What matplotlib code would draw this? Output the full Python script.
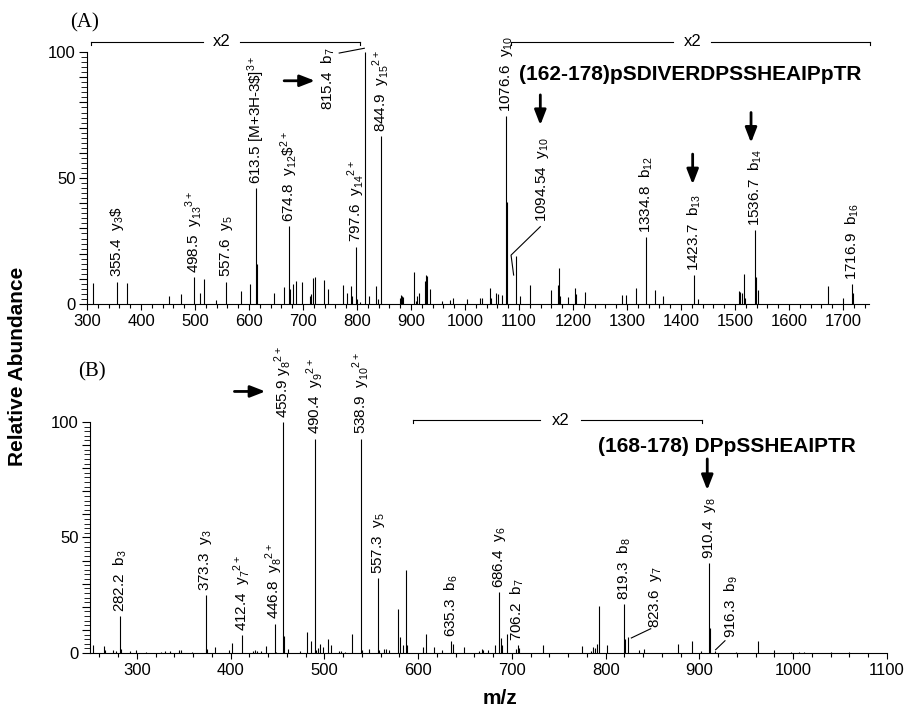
import matplotlib
matplotlib.use("Agg")
import matplotlib.pyplot as plt
from matplotlib.ticker import MultipleLocator, FuncFormatter

plt.rcParams['font.family'] = ['Liberation Sans', 'DejaVu Sans']
plt.rcParams['mathtext.fontset'] = 'custom'
plt.rcParams['mathtext.rm'] = 'Liberation Sans'
plt.rcParams['mathtext.it'] = 'Liberation Sans'
plt.rcParams['mathtext.default'] = 'regular'

# ---- panel A spectrum: (162-178)pSDIVERDPSSHEAIPpTR ----
a_mz = [312, 355.4, 374, 451, 474, 498.5, 508.5, 516, 539.5, 557.6, 584.5, 602.5,
        613.5, 615.5, 646.5, 665.5, 674.8, 676.5, 680.8, 687.5, 699, 712, 715,
        718.5, 721.5, 739.5, 745.5, 774, 781.5, 789, 791, 797.6, 800, 805, 815.4,
        823, 834.5, 838, 844.9, 879, 881, 883, 886, 906, 909, 911, 914, 925, 928,
        930, 935, 958, 973, 978, 1004, 1027, 1031.5, 1045.5, 1048, 1057, 1061,
        1068, 1076.6, 1078.5, 1094.5, 1102.4, 1121, 1160, 1171.5, 1173.4, 1175,
        1190, 1203, 1205, 1222.7, 1290.8, 1298, 1316, 1334.8, 1351.8, 1366.6,
        1423.7, 1431, 1507.3, 1510, 1512.8, 1516.6, 1519, 1536.7, 1538.5, 1542,
        1671.5, 1700, 1716.9, 1718]
a_int = [8.2, 8.9, 8.5, 3.2, 3.8, 10.6, 4.2, 9.8, 1.6, 8.9, 5.2, 8.1,
         45.9, 15.9, 4.2, 6.6, 30.8, 5.8, 7.9, 9.3, 8.9, 3.0, 4.0,
         10.2, 10.8, 9.5, 6.1, 7.7, 4.2, 7.1, 3.3, 22.8, 2.0, 1.0, 100,
         3.3, 7.1, 1.9, 66.8, 2.5, 3.5, 3.0, 2.8, 12.8, 1.3, 3.3, 4.5, 9.3, 11.6,
         11.2, 5.8, 1.3, 1.6, 2.2, 1.9, 2.5, 2.2, 6.4, 2.2, 4.5, 4.0,
         3.4, 74.5, 40.6, 18.9, 3.0, 7.5, 5.6, 7.5, 14.2, 3.3,
         2.6, 6.3, 4.0, 4.9, 3.7, 3.6, 6.3, 26.5, 5.7, 3.3,
         11.5, 1.9, 5.2, 4.9, 4.4, 11.9, 2.2, 29.4, 10.8, 5.6,
         7.3, 2.2, 7.9, 4.2]

a_label_mz = [355.4, 498.5, 557.6, 613.5, 674.8, 797.6, 844.9, 1076.6,
              1334.8, 1423.7, 1536.7, 1716.9]
a_label_txt = [r"355.4  y$_3\$$", r"498.5  y$_{13}{}^{3+}$", r"557.6  y$_5$",
               r"613.5 [M+3H-3\$]$^{3+}$", r"674.8  y$_{12}\$^{2+}$",
               r"797.6  y$_{14}{}^{2+}$", r"844.9  y$_{15}{}^{2+}$",
               r"1076.6  y$_{10}$", r"1334.8  b$_{12}$", r"1423.7  b$_{13}$",
               r"1536.7  b$_{14}$", r"1716.9  b$_{16}$"]

# ---- panel B spectrum: (168-178) DPpSSHEAIPTR ----
b_mz = [252.7, 264.4, 265.5, 275, 278, 282.2, 283.5, 293, 299, 310, 326, 330,
        335, 345, 346.5, 359, 373.3, 374.5, 383, 398, 401.4, 412.4, 424, 426,
        428, 432, 438, 446.8, 448.5, 455.9, 456.8, 461.3, 474, 481.6, 485.5,
        490.4, 491.5, 493, 495.4, 499, 503.8, 507.3, 515, 518, 522, 529.5,
        538.9, 540, 548, 557.3, 558.5, 564, 566, 569, 578.9, 580.7, 584, 587.1,
        588.5, 605.5, 608, 617, 625, 635.3, 637.5, 649, 665, 668, 669.5, 674,
        682, 686.4, 687.9, 689, 694.5, 704, 706.2, 708, 732.8, 774.4, 784,
        786.5, 789, 791, 793.2, 801, 819.3, 820.5, 823.6, 835, 841, 877, 892.3,
        902, 910.4, 911.2, 916.3, 939, 962.4, 980, 998, 1006, 1011, 1040, 1060]
b_int = [3.6, 3.2, 1.2, 1.2, 0.9, 15.8, 1.7, 1.0, 1.3, 0.6, 0.6, 0.8,
         0.9, 1.4, 1.4, 0.6, 25.2, 1.7, 2.4, 1.2, 4.3, 7.9, 1.0, 1.2,
         1.0, 1.0, 3.2, 12.7, 0.5, 100, 7.2, 1.9, 0.8, 8.9, 5.3,
         92.8, 1.4, 2.2, 3.9, 2.6, 6.2, 3.6, 1.0, 1.0, 0.6, 8.2,
         92.8, 1.4, 1.7, 32.4, 1.2, 1.6, 1.6, 1.2, 19.1, 7.0, 3.3, 36.1,
         3.6, 2.7, 8.3, 2.6, 1.4, 5.0, 4.0, 2.6, 0.7, 1.7, 1.4, 1.2,
         3.5, 26.2, 6.5, 3.6, 8.3, 1.7, 3.6, 2.2, 3.6, 3.2, 1.0,
         2.6, 2.2, 3.9, 20.4, 3.6, 21.3, 6.0, 6.9, 1.4, 1.9, 3.9, 5.3,
         1.0, 38.8, 10.8, 1.0, 0.6, 5.0, 1.4, 0.6, 0.6, 0.6, 0.4, 0.4]

b_label_mz = [282.2, 373.3, 412.4, 446.8, 455.9, 490.4, 538.9, 557.3, 635.3,
              686.4, 706.2, 819.3, 910.4]
b_label_txt = [r"282.2  b$_3$", r"373.3  y$_3$", r"412.4  y$_7{}^{2+}$",
               r"446.8  y$_8{}^{2+}$", r"455.9 y$_8{}^{2+}$",
               r"490.4  y$_9{}^{2+}$", r"538.9  y$_{10}{}^{2+}$",
               r"557.3  y$_5$", r"635.3  b$_6$", r"686.4  y$_6$",
               r"706.2  b$_7$", r"819.3  b$_8$", r"910.4  y$_8$"]

fig = plt.figure(figsize=(9.15, 7.10), dpi=100)
axA = fig.add_axes([0.0951, 0.5718, 0.8546, 0.3549])
axB = fig.add_axes([0.0984, 0.0803, 0.8710, 0.3254])

LABEL_FS = 11


def style_axis(ax, xlim):
    ax.set_xlim(*xlim)
    ax.set_ylim(0, 100)
    for s in ['top', 'right']:
        ax.spines[s].set_visible(False)
    ax.xaxis.set_major_locator(MultipleLocator(100))
    ax.xaxis.set_minor_locator(MultipleLocator(20))
    ax.yaxis.set_major_locator(MultipleLocator(10))
    ax.yaxis.set_minor_locator(MultipleLocator(2))
    ax.yaxis.set_major_formatter(FuncFormatter(
        lambda v, p: "%d" % v if v in (0, 50, 100) else ""))
    ax.tick_params(axis='x', which='major', length=4, width=0.8, labelsize=12, pad=3)
    ax.tick_params(axis='x', which='minor', length=3, width=0.8)
    ax.tick_params(axis='y', which='major', length=6, width=0.8, labelsize=12, pad=2)
    ax.tick_params(axis='y', which='minor', length=4, width=0.6)


def peak_labels(ax, mz, inten, lmz, ltxt):
    for m, t in zip(lmz, ltxt):
        h = max(i for x, i in zip(mz, inten) if abs(x - m) < 1.0)
        ax.annotate(t, xy=(m, h), xytext=(0, 3), textcoords='offset points',
                    rotation=90, ha='center', va='bottom', fontsize=LABEL_FS)


def bracket(ax, x0, x1, y, xt, gap):
    kw = dict(color='black', lw=0.8, clip_on=False)
    ax.plot([x0, xt - gap], [y, y], **kw)
    ax.plot([xt + gap, x1], [y, y], **kw)
    ax.plot([x0, x0], [y, y - 1.2], **kw)
    ax.plot([x1, x1], [y, y - 1.2], **kw)
    ax.text(xt, y, "x2", ha='center', va='center', fontsize=12)


def arrow(ax, start, end):
    ax.annotate('', xy=end, xytext=start, annotation_clip=False,
                arrowprops=dict(arrowstyle='-|>,head_length=0.9,head_width=0.35',
                                color='black', lw=2, shrinkA=0, shrinkB=0))


# ---- panel A ----
style_axis(axA, (300, 1748))
axA.vlines(a_mz, 0, a_int, color='black', lw=0.8)
peak_labels(axA, a_mz, a_int, a_label_mz, a_label_txt)
axA.text(746.8, 77, r"815.4  b$_7$", rotation=90, ha='center', va='bottom',
         fontsize=LABEL_FS)
axA.plot([767, 813.5], [99.6, 101.5], color='black', lw=0.8, clip_on=False)
axA.text(1142.6, 32.5, r"1094.54  y$_{10}$", rotation=90, ha='center',
         va='bottom', fontsize=LABEL_FS)
axA.plot([1139.4, 1085.2, 1090], [30.7, 19.4, 11.5], color='black', lw=0.8)
bracket(axA, 307, 805, 104, 549, 35)
bracket(axA, 1085, 1749, 104, 1421, 35)
axA.text(1417, 90.9, "(162-178)pSDIVERDPSSHEAIPpTR", ha='center', va='center',
         fontsize=15, fontweight='bold')
arrow(axA, (665, 88.6), (722, 88.6))
arrow(axA, (1139.4, 83), (1139.4, 71))
arrow(axA, (1421.5, 59.5), (1421.5, 47.5))
arrow(axA, (1529.6, 76), (1529.6, 64))

# ---- panel B ----
style_axis(axB, (250, 1100))
axB.vlines(b_mz, 0, b_int, color='black', lw=0.8)
peak_labels(axB, b_mz, b_int, b_label_mz, b_label_txt)
axB.text(852.6, 10.8, r"823.6  y$_7$", rotation=90, ha='center', va='bottom',
         fontsize=LABEL_FS)
axB.plot([848, 827.3], [10.5, 6.5], color='black', lw=0.8)
axB.text(934.3, 6.5, r"916.3  b$_9$", rotation=90, ha='center', va='bottom',
         fontsize=LABEL_FS)
axB.plot([927.2, 917.2], [5.3, 1.4], color='black', lw=0.8)
bracket(axB, 594, 903, 100.7, 752, 22)
axB.text(929.6, 89.2, "(168-178) DPpSSHEAIPTR", ha='center', va='center',
         fontsize=15, fontweight='bold')
arrow(axB, (404, 113.2), (437, 113.2))
arrow(axB, (908.3, 84), (908.3, 70.5))

fig.text(85 / 915, 1 - 23 / 710, "(A)", family='Liberation Serif', fontsize=15,
         ha='center', va='center')
fig.text(92 / 915, 1 - 372 / 710, "(B)", family='Liberation Serif', fontsize=15,
         ha='center', va='center')
fig.text(18 / 915, 1 - 366 / 710, "Relative Abundance", rotation=90,
         fontsize=15, fontweight='bold', ha='center', va='center')
fig.text(500 / 915, 1 - 698 / 710, "m/z", fontsize=15, fontweight='bold',
         ha='center', va='center')

fig.savefig("out.png", dpi=100)
